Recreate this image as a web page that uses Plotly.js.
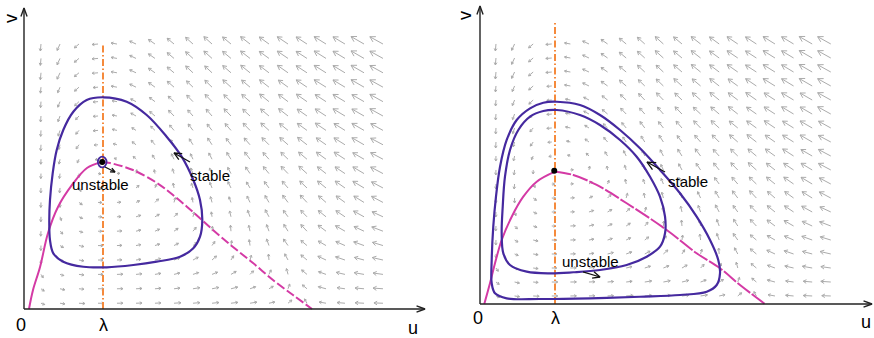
<!DOCTYPE html>
<html><head><meta charset="utf-8">
<script src="https://cdn.plot.ly/plotly-3.0.1.min.js"></script>
<style>html,body{margin:0;padding:0;background:#fff;}#chart{width:874px;height:338px;}</style>
</head><body><div id="chart"></div>
<script>
// ---------------- data (u in units of lambda) ----------------
const lambdaU = 1;
const tickLabels = ['0', 'λ'];
const axisNames = ['u', 'v'];
const cycleNames = ['stable', 'unstable'];

// left panel: stable limit cycle around unstable focus
const leftCycleU = [1.004,1.300,1.553,1.806,1.996,2.143,2.228,2.257,2.228,2.143,1.975,1.680,1.384,1.047,0.751,0.497,0.371,0.329,0.320,0.329,0.363,0.414,0.497,0.624,0.794,1.004];
const leftCycleV = [2.680,2.624,2.456,2.181,1.928,1.633,1.380,1.127,0.915,0.768,0.662,0.599,0.557,0.528,0.535,0.599,0.705,0.873,1.127,1.380,1.718,2.013,2.266,2.497,2.646,2.680];
const leftSmallCycleU = [1.045,1.027,0.99,0.953,0.935,0.953,0.99,1.027,1.045];
const leftSmallCycleV = [1.861,1.910,1.930,1.910,1.861,1.812,1.792,1.812,1.861];
const leftNullSolidU = [0.063,0.114,0.203,0.304,0.430,0.608,0.797,0.987];
const leftNullSolidV = [0.000,0.241,0.532,0.962,1.291,1.570,1.785,1.861];
const leftNullDashU = [0.987,1.089,1.380,1.684,1.886,2.139,2.392,2.646,2.899,3.152,3.405,3.646];
const leftNullDashV = [1.861,1.848,1.759,1.595,1.443,1.228,1.000,0.785,0.582,0.367,0.177,0.000];
const leftEquilibrium = {u: [0.99], v: [1.861]};
const leftGridU = [0.215,0.456,0.696,0.937,1.177,1.418,1.658,1.899,2.139,2.380,2.620,2.861,3.101,3.342,3.582,3.823,4.063,4.304,4.544];
const leftGridV = [3.354,3.172,2.990,2.808,2.625,2.443,2.261,2.079,1.896,1.714,1.532,1.349,1.167,0.985,0.803,0.620,0.438,0.256,0.073];

// right panel: outer stable cycle, inner unstable cycle, stable focus
const rightOuterU = [1.023,1.333,1.600,1.867,2.133,2.400,2.667,2.889,3.067,3.177,3.200,3.156,3.023,2.667,2.133,1.467,0.800,0.356,0.200,0.156,0.156,0.177,0.213,0.267,0.356,0.489,0.667,0.844,1.023];
const rightOuterV = [2.697,2.653,2.520,2.320,2.076,1.787,1.476,1.164,0.853,0.587,0.409,0.253,0.164,0.120,0.097,0.076,0.067,0.076,0.143,0.276,0.587,1.031,1.431,1.831,2.187,2.453,2.609,2.684,2.697];
const rightInnerU = [1.023,1.333,1.600,1.867,2.089,2.267,2.400,2.467,2.467,2.400,2.223,1.956,1.600,1.244,0.933,0.623,0.400,0.311,0.289,0.303,0.333,0.400,0.511,0.667,0.844,1.023];
const rightInnerV = [2.587,2.520,2.387,2.187,1.964,1.697,1.431,1.164,0.943,0.764,0.631,0.520,0.453,0.423,0.409,0.431,0.520,0.676,0.943,1.297,1.697,2.053,2.320,2.497,2.573,2.587];
const rightNullSolidU = [0.057,0.133,0.200,0.289,0.423,0.577,0.756,1.000];
const rightNullSolidV = [0.000,0.276,0.543,0.853,1.164,1.431,1.631,1.764];
const rightNullDashU = [1.000,1.244,1.556,1.956,2.489,2.889,3.200,3.467,3.800];
const rightNullDashV = [1.764,1.720,1.587,1.343,0.987,0.676,0.476,0.253,0.000];
const rightEquilibrium = {u: [0.99], v: [1.777]};
const rightGridU = [0.213,0.461,0.709,0.957,1.205,1.453,1.701,1.949,2.197,2.445,2.693,2.941,3.189,3.437,3.685,3.933,4.181,4.429,4.677];
const rightGridV = [3.467,3.280,3.093,2.907,2.720,2.533,2.347,2.160,1.973,1.787,1.600,1.413,1.227,1.040,0.853,0.667,0.480,0.293,0.107];

// direction field (same 19x19 pattern in both panels)
// angle in degrees (0 = +u, 90 = +v), magnitude in relative units
const fieldAngle = [
 [-95,-115,-140,-175,170,155,145,140,138,138,140,142,144,146,147,148,149,150,151],
 [-95,-115,-140,-175,170,155,145,140,138,138,140,142,144,146,147,148,149,150,151],
 [-95,-115,-140,-175,170,155,145,140,137,137,139,141,143,145,147,148,149,150,151],
 [-95,-113,-138,-175,170,154,144,139,136,136,138,140,142,144,146,148,149,150,151],
 [-94,-112,-136,-175,170,153,143,137,134,134,136,139,141,143,145,147,149,150,151],
 [-94,-110,-133,-175,170,151,140,134,131,131,134,137,140,142,145,147,149,150,151],
 [-93,-108,-130,-175,168,148,136,130,127,128,131,134,138,141,144,146,148,150,151],
 [-93,-105,-125,-175,165,143,130,124,122,123,127,131,135,139,142,145,148,150,152],
 [-92,-102,-115,-170,160,135,122,116,115,117,122,127,132,136,140,144,147,150,152],
 [-92,-97,-90,-5,5,80,100,108,112,115,118,124,129,134,138,142,146,149,152],
 [-92,-95,-60,-3,5,40,70,100,108,112,116,121,126,131,136,141,145,149,152],
 [-92,-90,-35,-2,4,25,45,75,100,105,110,115,120,127,133,139,144,148,152],
 [-92,-70,-25,-2,3,18,30,45,75,98,103,110,118,126,134,141,146,151,155],
 [-93,-45,-18,-1,3,14,24,35,50,85,95,102,110,122,133,143,150,155,159],
 [-92,-30,-12,-1,2,11,18,27,38,55,82,98,110,125,140,150,156,160,163],
 [-90,-22,-9,0,2,8,14,20,28,42,58,75,95,118,140,155,161,165,167],
 [-55,-17,-7,0,2,6,10,14,18,22,30,45,65,105,140,160,167,170,172],
 [-35,-12,-5,0,1,3,5,7,9,11,14,20,30,70,140,165,172,175,176],
 [-20,-8,-3,0,1,2,3,4,5,6,7,9,12,40,120,170,175,177,178]
];
const fieldMag = [
 [7,7,6,6,6,7,8,9,10,11,11,12,12,13,13,14,14,15,15],
 [7,7,6,6,6,7,8,9,10,11,11,12,12,13,13,14,14,15,15],
 [7,7,6,6,6,7,8,9,10,10,11,12,12,13,13,14,14,15,15],
 [6,6,6,5,6,7,8,9,9,10,11,11,12,12,13,14,14,15,15],
 [6,6,6,5,5,6,7,8,9,10,10,11,12,12,13,13,14,14,15],
 [6,6,5,5,5,6,7,8,8,9,10,10,11,12,12,13,14,14,15],
 [6,6,5,5,5,5,6,7,8,8,9,10,11,11,12,13,13,14,14],
 [6,5,5,4,4,5,6,6,7,8,8,9,10,11,12,12,13,14,14],
 [5,5,4,3,3,4,5,6,6,7,8,9,9,10,11,12,13,13,14],
 [5,5,4,3,3,4,4,5,6,6,7,8,9,10,11,11,12,13,14],
 [5,5,4,3,3,4,4,5,5,6,7,7,8,9,10,11,12,13,13],
 [5,5,4,4,4,4,5,5,5,6,6,7,8,9,10,10,11,12,13],
 [5,4,4,4,4,5,5,5,5,5,6,7,8,8,9,10,11,12,12],
 [5,4,4,4,5,5,5,5,5,5,6,6,7,8,9,10,11,11,12],
 [5,4,5,5,5,5,5,5,5,5,5,6,7,8,8,9,10,11,11],
 [4,4,5,5,5,5,6,6,6,6,5,5,6,7,8,9,10,10,11],
 [4,4,5,5,6,6,6,6,6,6,6,5,5,6,7,8,9,10,10],
 [4,5,5,6,6,6,6,6,7,7,7,6,5,5,6,8,8,9,10],
 [4,5,6,6,6,6,6,7,7,7,7,7,6,5,5,7,8,9,9]
];

// ---------------- layout / style ----------------
const W = 874, H = 338;
const LEFT = {k: 79, xr: [-24/79, 413/79], yr: [-29/79, 309/79], xa: 'x', ya: 'y', xEnd: 401/79, yEnd: 301/79, lamTop: 266/79};
const RIGHT = {k: 75, xr: [-43/75, 394/75], yr: [-34/75, 304/75], xa: 'x2', ya: 'y2', xEnd: 392/75, yEnd: 298/75, lamTop: 281/75};
const FIELD_SCALE = 1.0;
const PURPLE = '#45299f', MAGENTA = '#d43aa5', ORANGE = '#f58a3c', GREY = '#ababab';
const FONT = 'Liberation Sans, Arial, Helvetica, sans-serif';

function arrowSegs(out, x0, y0, x1, y1, k, headMin, headFrac, headDeg) {
  const dx = (x1 - x0) * k, dy = (y1 - y0) * k;
  const L = Math.hypot(dx, dy);
  if (L < 1e-6) return;
  const ux = dx / L, uy = dy / L;
  const h = Math.max(headMin, headFrac * L);
  const a = headDeg * Math.PI / 180, ca = Math.cos(a), sa = Math.sin(a);
  const b1x = -ux * ca + uy * sa, b1y = -ux * sa - uy * ca;
  const b2x = -ux * ca - uy * sa, b2y = ux * sa - uy * ca;
  out.x.push(x0, x1, null, x1 + b1x * h / k, x1, x1 + b2x * h / k, null);
  out.y.push(y0, y1, null, y1 + b1y * h / k, y1, y1 + b2y * h / k, null);
}

function buildField(gu, gv, k) {
  const out = {x: [], y: []};
  for (let r = 0; r < gv.length; r++) {
    for (let c = 0; c < gu.length; c++) {
      const a = fieldAngle[r][c] * Math.PI / 180;
      const m = fieldMag[r][c] * FIELD_SCALE;
      const x0 = gu[c], y0 = gv[r];
      arrowSegs(out, x0, y0, x0 + m * Math.cos(a) / k, y0 + m * Math.sin(a) / k, k, 2.6, 0.4, 30);
    }
  }
  return out;
}

const traces = [];
function panel(P, gu, gv, curves, eq, labelArrows) {
  const f = buildField(gu, gv, P.k);
  traces.push({x: f.x, y: f.y, xaxis: P.xa, yaxis: P.ya, mode: 'lines', line: {color: GREY, width: 1}, hoverinfo: 'skip'});
  traces.push({x: [lambdaU, lambdaU], y: [0, P.lamTop], xaxis: P.xa, yaxis: P.ya, mode: 'lines',
    line: {color: ORANGE, width: 2, dash: '7px,2.5px,1.5px,2.5px'}});
  curves.forEach(cv => traces.push({x: cv.u, y: cv.v, xaxis: P.xa, yaxis: P.ya, mode: 'lines',
    line: {color: cv.color, width: cv.width, dash: cv.dash || 'solid', shape: 'spline', smoothing: 1}}));
  traces.push({x: eq.u, y: eq.v, xaxis: P.xa, yaxis: P.ya, mode: 'markers', marker: {color: '#000', size: 6}});
  const b = {x: [], y: []};
  labelArrows.forEach(a => arrowSegs(b, a[0], a[1], a[2], a[3], P.k, 5, 0.45, 25));
  traces.push({x: b.x, y: b.y, xaxis: P.xa, yaxis: P.ya, mode: 'lines', line: {color: '#111', width: 1.3}});
  const ax = {x: [], y: []};
  arrowSegs(ax, 0, 0, P.xEnd, 0, P.k, 9, 0, 20);
  arrowSegs(ax, 0, 0, 0, P.yEnd, P.k, 9, 0, 20);
  traces.push({x: ax.x, y: ax.y, xaxis: P.xa, yaxis: P.ya, mode: 'lines', line: {color: '#222', width: 1.4}});
}

panel(LEFT, leftGridU, leftGridV, [
  {u: leftNullSolidU, v: leftNullSolidV, color: MAGENTA, width: 2},
  {u: leftNullDashU, v: leftNullDashV, color: MAGENTA, width: 2, dash: '9px,3px'},
  {u: leftCycleU, v: leftCycleV, color: PURPLE, width: 2.2},
  {u: leftSmallCycleU, v: leftSmallCycleV, color: PURPLE, width: 1.8}
], leftEquilibrium, [[2.101, 1.861, 1.899, 1.975], [1.025, 1.797, 1.152, 1.734]]);

panel(RIGHT, rightGridU, rightGridV, [
  {u: rightNullSolidU, v: rightNullSolidV, color: MAGENTA, width: 2},
  {u: rightNullDashU, v: rightNullDashV, color: MAGENTA, width: 2, dash: '16px,2px'},
  {u: rightOuterU, v: rightOuterV, color: PURPLE, width: 2.2},
  {u: rightInnerU, v: rightInnerV, color: PURPLE, width: 2.2}
], rightEquilibrium, [[2.467, 1.760, 2.227, 1.893], [1.373, 0.427, 1.600, 0.360]]);

function txt(text, x, y, xa, ya, size, angle) {
  return {text: text, x: x, y: y, xref: xa, yref: ya, showarrow: false, textangle: angle || 0,
    font: {family: FONT, size: size, color: '#000'}, xanchor: 'center', yanchor: 'middle'};
}
const annotations = [
  txt(tickLabels[0], -0.032, -0.203, 'x', 'y', 18), txt(tickLabels[1], lambdaU, -0.203, 'x', 'y', 18),
  txt(axisNames[0], 4.924, -0.24, 'x', 'y', 18), txt(axisNames[1], -0.165, 3.684, 'x', 'y', 18, -90),
  txt(cycleNames[0], 2.354, 1.696, 'x', 'y', 15), txt(cycleNames[1], 0.962, 1.582, 'x', 'y', 15),
  txt(tickLabels[0], -0.027, -0.187, 'x2', 'y2', 18), txt(tickLabels[1], lambdaU, -0.187, 'x2', 'y2', 18),
  txt(axisNames[0], 5.147, -0.24, 'x2', 'y2', 18), txt(axisNames[1], -0.2, 3.84, 'x2', 'y2', 18, -90),
  txt(cycleNames[0], 2.773, 1.64, 'x2', 'y2', 15), txt(cycleNames[1], 1.467, 0.573, 'x2', 'y2', 15)
];

const hidden = {visible: false, fixedrange: true};
const layout = {
  width: W, height: H, margin: {l: 0, r: 0, t: 0, b: 0, pad: 0},
  paper_bgcolor: '#fff', plot_bgcolor: '#fff', showlegend: false, hovermode: false,
  xaxis: Object.assign({domain: [0, 0.5], range: LEFT.xr}, hidden),
  yaxis: Object.assign({domain: [0, 1], range: LEFT.yr}, hidden),
  xaxis2: Object.assign({domain: [0.5, 1], range: RIGHT.xr, anchor: 'y2'}, hidden),
  yaxis2: Object.assign({domain: [0, 1], range: RIGHT.yr, anchor: 'x2'}, hidden),
  annotations: annotations
};
Plotly.newPlot('chart', traces, layout, {staticPlot: true, displayModeBar: false});
</script></body></html>
